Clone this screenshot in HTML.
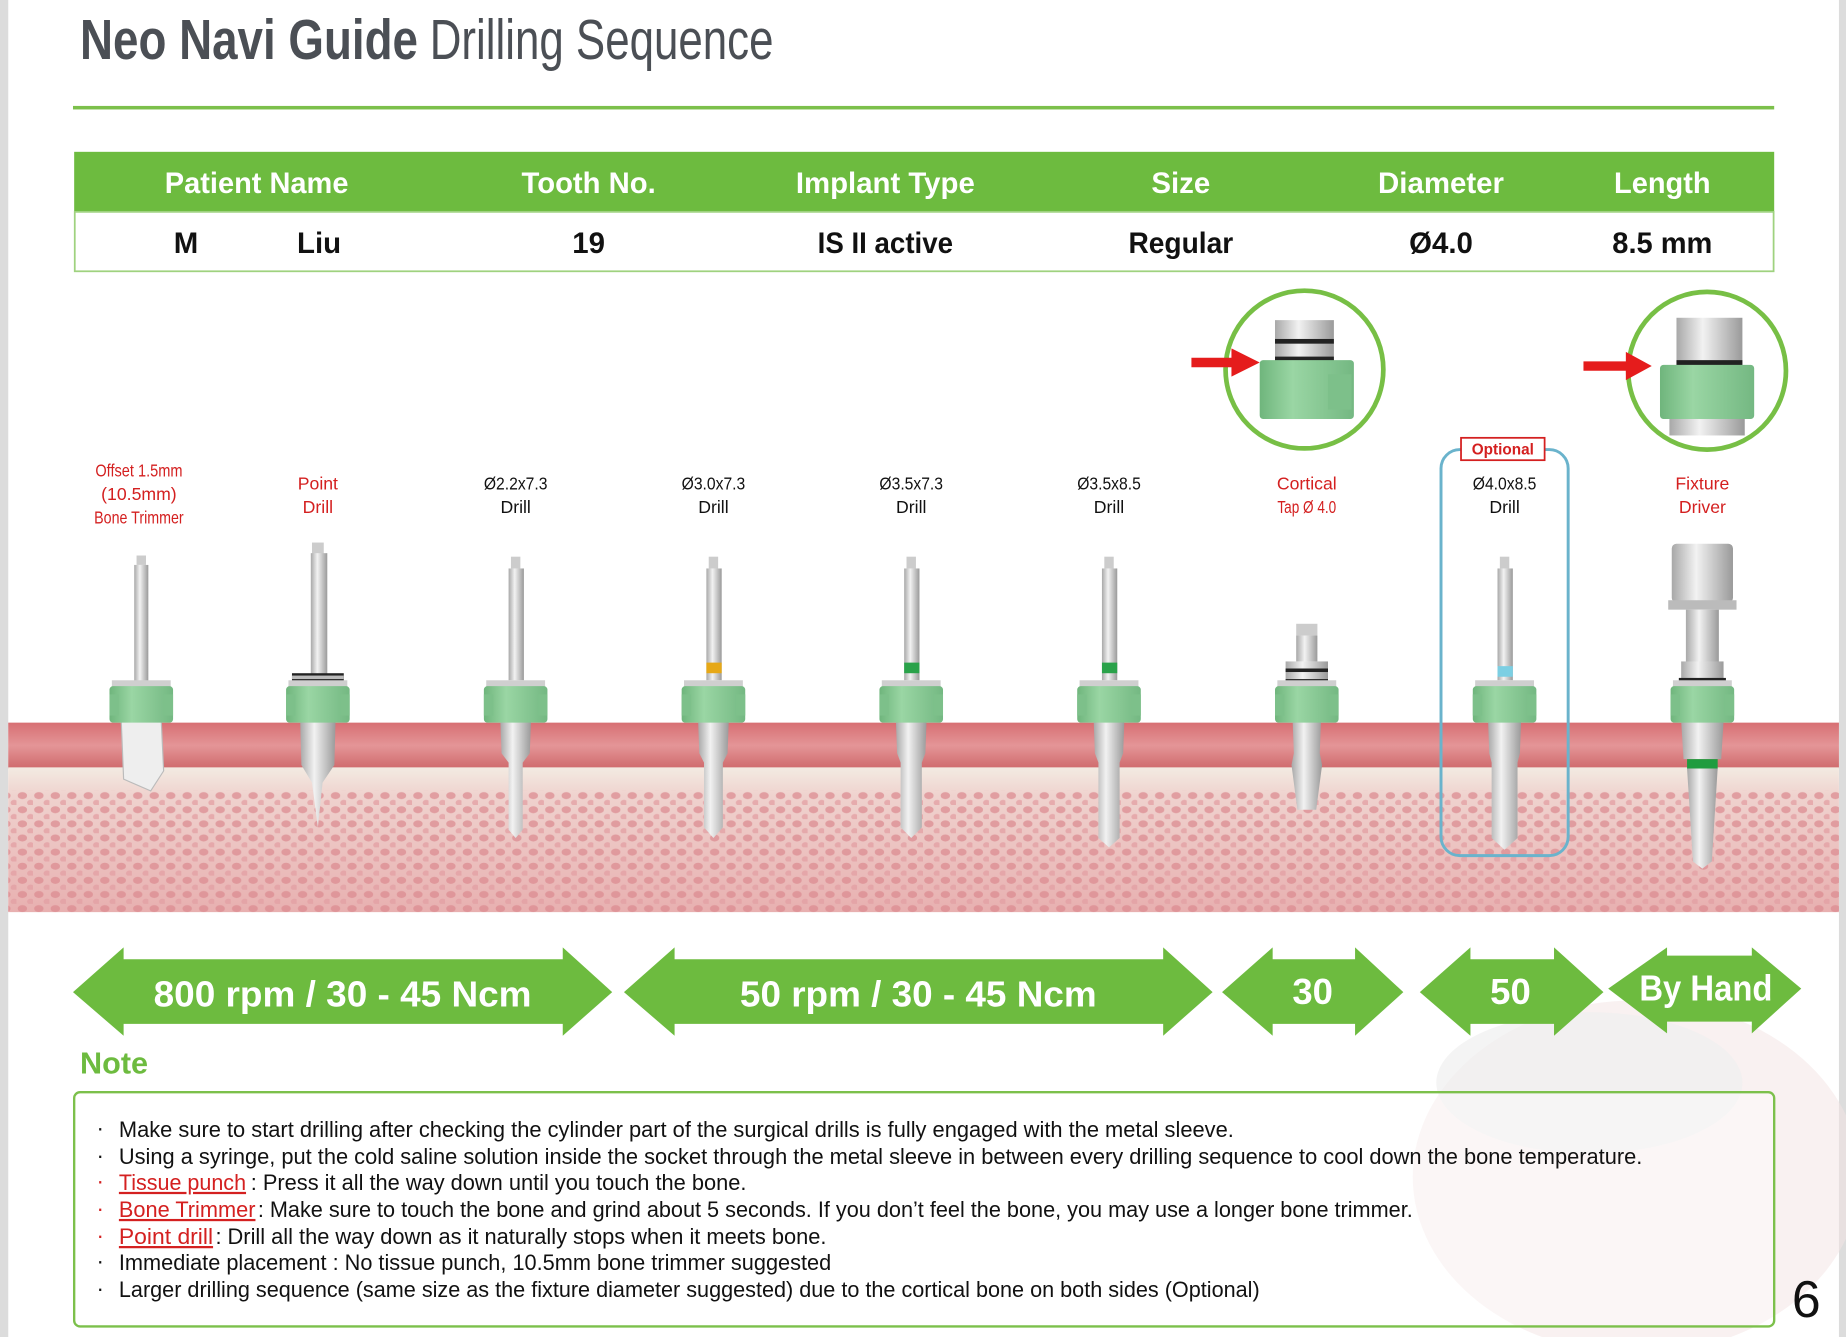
<!DOCTYPE html>
<html><head><meta charset="utf-8"><style>
html,body{margin:0;padding:0;background:#fff;}
svg{display:block;}
text{font-family:"Liberation Sans Narrow","Liberation Sans",sans-serif;}
</style></head><body>
<svg width="1846" height="1337" viewBox="0 0 1568 1136" preserveAspectRatio="none" xmlns="http://www.w3.org/2000/svg">
<defs>
<linearGradient id="met" x1="0" x2="1"><stop offset="0" stop-color="#a8a8a8"/><stop offset="0.4" stop-color="#f2f2f2"/><stop offset="1" stop-color="#9a9a9a"/></linearGradient>
<linearGradient id="grn" x1="0" x2="1"><stop offset="0" stop-color="#6fb57c"/><stop offset="0.35" stop-color="#9ad6a4"/><stop offset="1" stop-color="#74b882"/></linearGradient>
<linearGradient id="gum" x1="0" y1="0" x2="0" y2="1"><stop offset="0" stop-color="#d76f73"/><stop offset="0.5" stop-color="#e49597"/><stop offset="1" stop-color="#cf6a6c"/></linearGradient>
<linearGradient id="bone" x1="0" y1="0" x2="0" y2="1"><stop offset="0" stop-color="#f3ebe2"/><stop offset="0.2" stop-color="#efd2ce"/><stop offset="1" stop-color="#e8b0b0"/></linearGradient>
<pattern id="spots" width="14" height="12" patternUnits="userSpaceOnUse"><rect width="14" height="12" fill="none"/><ellipse cx="5" cy="4" rx="4" ry="3" fill="#dc8c91" opacity="0.75"/><ellipse cx="12" cy="10" rx="3" ry="2.5" fill="#e39ea2" opacity="0.75"/></pattern>
<g id="sleeve"><rect x="-25" y="578" width="50" height="6" fill="#cfcfcf"/><rect x="-27" y="583" width="54" height="31" rx="3" fill="url(#grn)"/><rect x="-27" y="590" width="8" height="18" fill="#7dc08a"/><rect x="19" y="590" width="8" height="18" fill="#7dc08a"/></g>
</defs>
<rect width="1568" height="1136" fill="#fff"/>
<rect x="0" y="0" width="7" height="1136" fill="#dcdcdc"/>
<rect x="1562" y="0" width="6" height="1136" fill="#dcdcdc"/>
<ellipse cx="1390" cy="1000" rx="190" ry="150" fill="#f4e4e4" opacity="0.5"/>
<ellipse cx="1350" cy="920" rx="130" ry="60" fill="#efefef" opacity="0.7"/>

<text x="68" y="50" font-size="48" font-weight="bold" fill="#4b4f55" textLength="287" lengthAdjust="spacingAndGlyphs">Neo Navi Guide</text>
<text x="365" y="50" font-size="48" fill="#4b4f55" textLength="292" lengthAdjust="spacingAndGlyphs">Drilling Sequence</text>
<rect x="62" y="90" width="1445" height="3" fill="#7cc04b"/>

<rect x="63" y="129" width="1444" height="51" fill="#6dbb3f"/>
<rect x="63.5" y="180" width="1443" height="50.5" fill="#fff" stroke="#9fd27f" stroke-width="1.5"/>
<g font-size="25" fill="#fff" text-anchor="middle" font-weight="600">
<text x="218" y="164" textLength="156" lengthAdjust="spacingAndGlyphs">Patient Name</text><text x="500" y="164" textLength="114" lengthAdjust="spacingAndGlyphs">Tooth No.</text><text x="752" y="164" textLength="152" lengthAdjust="spacingAndGlyphs">Implant Type</text><text x="1003" y="164">Size</text><text x="1224" y="164" textLength="107" lengthAdjust="spacingAndGlyphs">Diameter</text><text x="1412" y="164" textLength="82" lengthAdjust="spacingAndGlyphs">Length</text>
</g>
<g font-size="25" font-weight="bold" fill="#111" text-anchor="middle">
<text x="158" y="215">M</text><text x="271" y="215">Liu</text><text x="500" y="215">19</text><text x="752" y="215" textLength="115" lengthAdjust="spacingAndGlyphs">IS II active</text><text x="1003" y="215" textLength="89" lengthAdjust="spacingAndGlyphs">Regular</text><text x="1224" y="215">Ø4.0</text><text x="1412" y="215" textLength="85" lengthAdjust="spacingAndGlyphs">8.5 mm</text>
</g>

<rect x="7" y="614" width="1555" height="39" fill="url(#gum)"/>
<rect x="7" y="652" width="1555" height="123" fill="url(#bone)"/>
<rect x="7" y="672" width="1555" height="103" fill="url(#spots)"/>

<g font-size="15" text-anchor="middle">
<text x="118" y="405" fill="#d42020" textLength="74" lengthAdjust="spacingAndGlyphs">Offset 1.5mm</text><text x="118" y="425" fill="#d42020">(10.5mm)</text><text x="118" y="445" fill="#d42020" textLength="76" lengthAdjust="spacingAndGlyphs">Bone Trimmer</text>
<text x="270" y="416" fill="#d42020">Point</text><text x="270" y="436" fill="#d42020">Drill</text>
<text x="438" y="416" fill="#111" textLength="54" lengthAdjust="spacingAndGlyphs">Ø2.2x7.3</text><text x="438" y="436" fill="#111">Drill</text>
<text x="606" y="416" fill="#111" textLength="54" lengthAdjust="spacingAndGlyphs">Ø3.0x7.3</text><text x="606" y="436" fill="#111">Drill</text>
<text x="774" y="416" fill="#111" textLength="54" lengthAdjust="spacingAndGlyphs">Ø3.5x7.3</text><text x="774" y="436" fill="#111">Drill</text>
<text x="942" y="416" fill="#111" textLength="54" lengthAdjust="spacingAndGlyphs">Ø3.5x8.5</text><text x="942" y="436" fill="#111">Drill</text>
<text x="1110" y="416" fill="#d42020">Cortical</text><text x="1110" y="436" fill="#d42020" textLength="50" lengthAdjust="spacingAndGlyphs">Tap Ø 4.0</text>
<text x="1278" y="416" fill="#111" textLength="54" lengthAdjust="spacingAndGlyphs">Ø4.0x8.5</text><text x="1278" y="436" fill="#111">Drill</text>
<text x="1446" y="416" fill="#d42020">Fixture</text><text x="1446" y="436" fill="#d42020">Driver</text>
</g>

<rect x="1224" y="382" width="108" height="345" rx="16" fill="none" stroke="#6ab3cc" stroke-width="2.5"/>
<rect x="1241" y="372" width="71" height="19" fill="#fff" stroke="#d42020" stroke-width="1.5"/>
<text x="1276.5" y="386" font-size="13" font-weight="bold" fill="#d42020" text-anchor="middle">Optional</text>

<g transform="translate(120,0)"><rect x="-4" y="472" width="8" height="8" fill="#ccc"/><rect x="-6" y="480" width="12" height="100" fill="url(#met)"/>
<path d="M-17 613 L17 613 L19 655 L8 672 L-15 662 Z" fill="#eeeeee" stroke="#bbb"/><use href="#sleeve"/></g>
<g transform="translate(270,0)"><rect x="-5" y="461" width="10" height="10" fill="#ccc"/><rect x="-6" y="470" width="14" height="103" fill="url(#met)"/><rect x="-22" y="572" width="44" height="10" fill="#222"/><rect x="-22" y="574" width="44" height="3" fill="#bbb"/>
<path d="M-15 613 L15 613 L14 650 L4 665 L0 703 L-5 665 L-14 650 Z" fill="url(#met)"/><use href="#sleeve"/></g>
<g transform="translate(438,0)"><rect x="-4" y="473" width="8" height="10" fill="#ccc"/><rect x="-6" y="483" width="13" height="95" fill="url(#met)"/><path d="M-13 613 L13 613 L12 640 L6 648 L6 705 L0 712 L-6 705 L-6 648 L-12 640 Z" fill="url(#met)"/><use href="#sleeve"/></g>
<g transform="translate(606,0)"><rect x="-4" y="473" width="8" height="10" fill="#ccc"/><rect x="-6" y="483" width="13" height="95" fill="url(#met)"/><rect x="-6" y="563" width="13" height="9" fill="#e6a817"/><path d="M-13 613 L13 613 L12 640 L8 648 L8 703 L0 712 L-8 703 L-8 648 L-12 640 Z" fill="url(#met)"/><use href="#sleeve"/></g>
<g transform="translate(774,0)"><rect x="-4" y="473" width="8" height="10" fill="#ccc"/><rect x="-6" y="483" width="13" height="95" fill="url(#met)"/><rect x="-6" y="563" width="13" height="9" fill="#2aa24a"/><path d="M-13 613 L13 613 L12 640 L9 648 L9 703 L0 712 L-9 703 L-9 648 L-12 640 Z" fill="url(#met)"/><use href="#sleeve"/></g>
<g transform="translate(942,0)"><rect x="-4" y="473" width="8" height="10" fill="#ccc"/><rect x="-6" y="483" width="13" height="95" fill="url(#met)"/><rect x="-6" y="563" width="13" height="9" fill="#2aa24a"/><path d="M-13 613 L13 613 L12 640 L9 648 L9 712 L0 720 L-9 712 L-9 648 L-12 640 Z" fill="url(#met)"/><use href="#sleeve"/></g>
<g transform="translate(1110,0)"><rect x="-9" y="530" width="18" height="10" fill="#ccc"/><rect x="-9" y="540" width="18" height="22" fill="url(#met)"/><rect x="-18" y="562" width="36" height="20" fill="url(#met)"/><rect x="-18" y="568" width="36" height="3" fill="#222"/><rect x="-18" y="577" width="36" height="3" fill="#222"/>
<path d="M-12 613 L12 613 L11 640 L13 650 L8 688 L-8 688 L-13 650 L-11 640 Z" fill="url(#met)"/><use href="#sleeve"/></g>
<g transform="translate(1278,0)"><rect x="-4" y="473" width="8" height="10" fill="#ccc"/><rect x="-6" y="483" width="13" height="95" fill="url(#met)"/><rect x="-6" y="566" width="13" height="9" fill="#7ccfe3"/><path d="M-14 613 L14 613 L13 640 L11 648 L11 712 L0 722 L-11 712 L-11 648 L-13 640 Z" fill="url(#met)"/><use href="#sleeve"/></g>
<g transform="translate(1446,0)"><rect x="-26" y="462" width="52" height="50" rx="4" fill="url(#met)"/><rect x="-29" y="510" width="58" height="8" fill="#bbb"/><rect x="-14" y="518" width="28" height="50" fill="url(#met)"/><rect x="-18" y="562" width="36" height="16" fill="url(#met)"/><rect x="-20" y="576" width="40" height="4" fill="#222"/>
<path d="M-18 613 L18 613 L16 645 L-16 645 Z" fill="url(#met)"/><rect x="-13" y="645" width="26" height="8" fill="#1f9c3f"/><path d="M-13 653 L13 653 L8 732 L0 738 L-8 732 Z" fill="url(#met)"/><use href="#sleeve"/></g>

<circle cx="1108" cy="314" r="67" fill="#fff" stroke="#77bf45" stroke-width="4"/>
<rect x="1083" y="272" width="50" height="36" fill="url(#met)"/><rect x="1083" y="288" width="50" height="4" fill="#222"/><rect x="1083" y="303" width="50" height="5" fill="#222"/>
<rect x="1070" y="306" width="80" height="50" rx="3" fill="url(#grn)"/><rect x="1128" y="318" width="20" height="30" fill="#7dc08a"/>
<polygon points="1012,304 1046,304 1046,296 1070,308 1046,320 1046,312 1012,312" fill="#e51c1c"/>
<circle cx="1450" cy="315" r="67" fill="#fff" stroke="#77bf45" stroke-width="4"/>
<rect x="1424" y="270" width="56" height="40" fill="url(#met)"/><rect x="1424" y="306" width="56" height="5" fill="#222"/>
<rect x="1410" y="310" width="80" height="46" rx="3" fill="url(#grn)"/><rect x="1418" y="356" width="64" height="14" fill="url(#met)"/>
<polygon points="1345,307 1381,307 1381,299 1403,311 1381,323 1381,315 1345,315" fill="#e51c1c"/>

<g fill="#6dbb3f">
<polygon points="62,843 105,805 105,815 478,815 478,805 520,843 478,880 478,870 105,870 105,880"/>
<polygon points="530,843 573,805 573,815 988,815 988,805 1030,843 988,880 988,870 573,870 573,880"/>
<polygon points="1038,843 1081,805 1081,815 1151,815 1151,805 1192,843 1151,880 1151,870 1081,870 1081,880"/>
<polygon points="1206,843 1249,805 1249,815 1320,815 1320,805 1362,843 1320,880 1320,870 1249,870 1249,880"/>
<polygon points="1366,840 1416,805 1416,812 1488,812 1488,805 1530,840 1488,878 1488,868 1416,868 1416,878"/>
</g>
<g font-size="31" font-weight="bold" fill="#fff" text-anchor="middle">
<text x="291" y="855" textLength="321" lengthAdjust="spacingAndGlyphs">800 rpm / 30 - 45 Ncm</text>
<text x="780" y="855" textLength="303" lengthAdjust="spacingAndGlyphs">50 rpm / 30 - 45 Ncm</text>
<text x="1115" y="853">30</text><text x="1283" y="853">50</text>
<text x="1449" y="850" textLength="113" lengthAdjust="spacingAndGlyphs">By Hand</text>
</g>

<text x="68" y="912" font-size="26" font-weight="bold" fill="#6dbb3f">Note</text>
<rect x="63" y="928" width="1444" height="199" rx="5" fill="#fff" fill-opacity="0.35" stroke="#7cc04b" stroke-width="2"/>
<g font-size="19" fill="#111">
<text x="82" y="965">·</text><text x="82" y="988">·</text><text x="82" y="1010" fill="#d42020">·</text><text x="82" y="1033" fill="#d42020">·</text><text x="82" y="1056" fill="#d42020">·</text><text x="82" y="1078">·</text><text x="82" y="1101">·</text>
<text x="101" y="966" textLength="947" lengthAdjust="spacingAndGlyphs">Make sure to start drilling after checking the cylinder part of the surgical drills is fully engaged with the metal sleeve.</text>
<text x="101" y="989" textLength="1294" lengthAdjust="spacingAndGlyphs">Using a syringe, put the cold saline solution inside the socket through the metal sleeve in between every drilling sequence to cool down the bone temperature.</text>
<text x="101" y="1011" textLength="108" lengthAdjust="spacingAndGlyphs" fill="#d42020" text-decoration="underline">Tissue punch</text><text x="213" y="1011" textLength="421" lengthAdjust="spacingAndGlyphs">: Press it all the way down until you touch the bone.</text>
<text x="101" y="1034" textLength="116" lengthAdjust="spacingAndGlyphs" fill="#d42020" text-decoration="underline">Bone Trimmer</text><text x="219" y="1034" textLength="981" lengthAdjust="spacingAndGlyphs">: Make sure to touch the bone and grind about 5 seconds. If you don’t feel the bone, you may use a longer bone trimmer.</text>
<text x="101" y="1057" textLength="80" lengthAdjust="spacingAndGlyphs" fill="#d42020" text-decoration="underline">Point drill</text><text x="183" y="1057" textLength="519" lengthAdjust="spacingAndGlyphs">: Drill all the way down as it naturally stops when it meets bone.</text>
<text x="101" y="1079" textLength="605" lengthAdjust="spacingAndGlyphs">Immediate placement : No tissue punch, 10.5mm bone trimmer suggested</text>
<text x="101" y="1102" textLength="969" lengthAdjust="spacingAndGlyphs">Larger drilling sequence (same size as the fixture diameter suggested) due to the cortical bone on both sides (Optional)</text>
</g>
<text x="1522" y="1119" font-size="44" fill="#111">6</text>
</svg>
</body></html>
